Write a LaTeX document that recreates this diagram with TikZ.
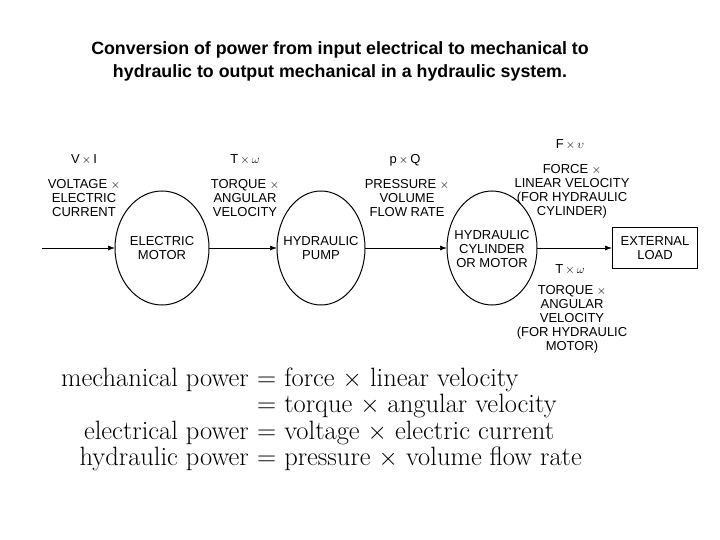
\documentclass[tikz,border=0pt]{standalone}
\usepackage{fontspec}
\newfontfamily\sans{Liberation Sans}
\usetikzlibrary{arrows.meta}
\begin{document}
\begin{tikzpicture}[x=1pt,y=-1pt,
  lbl/.style={font=\sans\fontsize{13}{14}\selectfont,align=center,inner sep=0},
  conn/.style={-{Latex[length=7pt,width=5pt]},line width=0.7pt},
  eq/.style={font=\fontsize{26.5}{28}\selectfont,inner sep=0}]
\useasboundingbox (0,0) rectangle (720,540);
\node[font=\sans\bfseries\fontsize{17.8}{23}\selectfont,align=center] (title) at (340,61) {Conversion of power from input electrical to mechanical to\\hydraulic to output mechanical in a hydraulic system.};
\coordinate (in) at (42,248);
\draw[line width=1pt] (162,248) ellipse (47 and 57);
\node[lbl] (em) at (162,248) {ELECTRIC\\MOTOR};
\draw[line width=1pt] (321,248) ellipse (44 and 57);
\node[lbl] (hp) at (321,248) {HYDRAULIC\\PUMP};
\draw[line width=1pt] (492,248) ellipse (45 and 57);
\node[lbl] (hc) at (492,249) {HYDRAULIC\\CYLINDER\\OR MOTOR};
\node[lbl,draw,line width=1pt,minimum width=85,minimum height=40] (el) at (655,248) {EXTERNAL\\LOAD};
\coordinate (emL) at (115,248); \coordinate (emR) at (209,248);
\coordinate (hpL) at (277,248); \coordinate (hpR) at (365,248);
\coordinate (hcL) at (447,248); \coordinate (hcR) at (537,248);
\draw[conn] (in) -- (emL);
\draw[conn] (emR) -- (hpL);
\draw[conn] (hpR) -- (hcL);
\draw[conn] (hcR) -- (el.west);
\node[lbl] (a1) at (84,160) {V\,$\times$\,I};
\node[lbl] (a2) at (84,198) {VOLTAGE $\times$\\ELECTRIC\\CURRENT};
\node[lbl] (b1) at (245,160) {T\,$\times$\,$\omega$};
\node[lbl] (b2) at (245,198) {TORQUE $\times$\\ANGULAR\\VELOCITY};
\node[lbl] (c1) at (405,160) {p\,$\times$\,Q};
\node[lbl] (c2) at (407,198) {PRESSURE $\times$\\VOLUME\\FLOW RATE};
\node[lbl] (d1) at (570,145) {F\,$\times$\,$\upsilon$};
\node[lbl] (d2) at (572,191) {FORCE $\times$\\LINEAR VELOCITY\\(FOR HYDRAULIC\\CYLINDER)};
\node[lbl] (e1) at (570,270) {T\,$\times$\,$\omega$};
\node[lbl] (e2) at (572,319) {TORQUE $\times$\\ANGULAR\\VELOCITY\\(FOR HYDRAULIC\\MOTOR)};
\node[eq,anchor=base east] (l1) at (249,386) {mechanical power};
\node[eq,anchor=base west] (r1) at (249,386) {\ = force $\times$ linear velocity};
\node[eq,anchor=base west] (r2) at (249,412) {\ = torque $\times$ angular velocity};
\node[eq,anchor=base east] (l3) at (249,439) {electrical power};
\node[eq,anchor=base west] (r3) at (249,439) {\ = voltage $\times$ electric current};
\node[eq,anchor=base east] (l4) at (249,465) {hydraulic power};
\node[eq,anchor=base west] (r4) at (249,465) {\ = pressure $\times$ volume flow rate};
\end{tikzpicture}
\end{document}
